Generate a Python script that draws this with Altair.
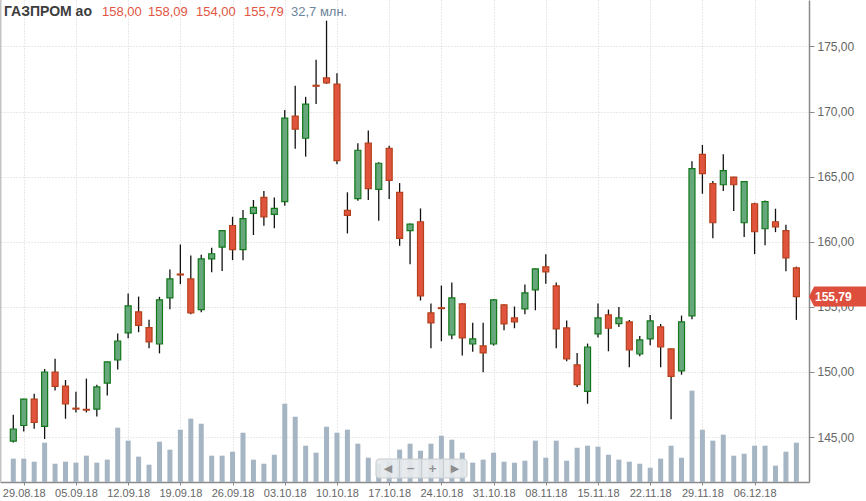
import json
import altair as alt
import pandas as pd

# Trading days (MOEX), Gazprom ordinary shares
dates = [
    "28.08.18", "29.08.18", "30.08.18", "31.08.18",
    "03.09.18", "04.09.18", "05.09.18", "06.09.18", "07.09.18",
    "10.09.18", "11.09.18", "12.09.18", "13.09.18", "14.09.18",
    "17.09.18", "18.09.18", "19.09.18", "20.09.18", "21.09.18",
    "24.09.18", "25.09.18", "26.09.18", "27.09.18", "28.09.18",
    "01.10.18", "02.10.18", "03.10.18", "04.10.18", "05.10.18",
    "08.10.18", "09.10.18", "10.10.18", "11.10.18", "12.10.18",
    "15.10.18", "16.10.18", "17.10.18", "18.10.18", "19.10.18",
    "22.10.18", "23.10.18", "24.10.18", "25.10.18", "26.10.18",
    "29.10.18", "30.10.18", "31.10.18", "01.11.18", "02.11.18",
    "06.11.18", "07.11.18", "08.11.18", "09.11.18",
    "12.11.18", "13.11.18", "14.11.18", "15.11.18", "16.11.18",
    "19.11.18", "20.11.18", "21.11.18", "22.11.18", "23.11.18",
    "26.11.18", "27.11.18", "28.11.18", "29.11.18", "30.11.18",
    "03.12.18", "04.12.18", "05.12.18", "06.12.18", "07.12.18",
    "10.12.18", "11.12.18", "12.12.18",
]

open_ = [
    144.69, 145.89, 147.92, 145.82, 150.00, 148.91, 147.22, 147.13, 147.15, 149.15,
    150.92, 153.00, 154.62, 153.41, 152.15, 155.69, 157.52, 157.15, 154.79, 158.69,
    159.59, 161.25, 159.40, 162.18, 163.41, 162.10, 163.08, 169.65, 167.95, 172.02,
    172.59, 172.11, 162.41, 163.31, 167.57, 164.03, 167.18, 163.80, 160.85, 161.54,
    154.54, 154.93, 152.85, 155.23, 152.15, 152.00, 152.15, 155.15, 154.15, 154.85,
    156.31, 158.08, 156.62, 153.38, 150.54, 148.51, 152.92, 154.38, 153.72, 153.85,
    151.38, 152.54, 153.46, 151.77, 150.08, 154.31, 166.72, 164.46, 164.38, 164.97,
    161.46, 162.92, 161.00, 161.54, 160.85, 158.00,
]
high = [
    146.72, 147.95, 148.33, 150.23, 151.02, 149.38, 148.48, 149.49, 149.02, 150.80,
    152.95, 156.02, 155.79, 154.02, 155.77, 157.87, 159.79, 158.95, 159.00, 159.54,
    160.90, 161.92, 162.44, 163.21, 163.90, 163.41, 170.13, 171.98, 171.13, 173.98,
    176.98, 172.95, 163.80, 167.57, 168.54, 166.10, 167.38, 164.51, 161.40, 162.56,
    155.26, 156.64, 156.87, 155.28, 153.79, 153.79, 155.60, 155.20, 155.03, 156.72,
    157.95, 159.05, 156.87, 153.95, 151.46, 152.18, 155.26, 154.79, 155.00, 154.00,
    152.77, 154.38, 153.69, 151.80, 154.33, 166.18, 167.44, 164.67, 166.72, 165.00,
    164.65, 163.00, 163.18, 162.54, 161.31, 158.09,
]
low = [
    144.58, 145.43, 145.64, 144.85, 148.58, 146.41, 146.89, 146.89, 146.59, 148.20,
    150.20, 152.59, 153.05, 151.82, 151.43, 154.82, 156.74, 154.43, 154.58, 157.66,
    157.75, 158.59, 158.59, 160.52, 161.23, 161.03, 162.77, 167.15, 166.54, 170.59,
    172.13, 165.95, 160.64, 163.15, 163.21, 161.62, 163.28, 159.69, 158.28, 155.49,
    151.82, 152.36, 152.51, 151.26, 151.56, 149.97, 152.03, 153.21, 153.36, 154.44,
    154.74, 156.77, 151.82, 150.82, 148.85, 147.56, 152.64, 151.59, 153.46, 150.36,
    151.21, 152.05, 150.36, 146.36, 149.79, 154.05, 163.69, 160.28, 163.90, 162.36,
    160.36, 159.05, 159.74, 160.74, 157.74, 154.00,
]
close = [
    145.62, 147.92, 146.12, 150.00, 148.89, 147.54, 147.15, 147.07, 148.85, 150.77,
    152.38, 155.08, 153.58, 152.31, 155.54, 157.15, 157.45, 154.54, 158.69, 159.08,
    160.85, 159.40, 161.78, 162.64, 161.92, 162.56, 169.49, 168.65, 170.57, 171.95,
    172.21, 166.23, 162.03, 167.03, 164.08, 166.03, 164.72, 160.26, 161.36, 155.85,
    153.77, 154.87, 155.69, 152.62, 152.54, 151.46, 155.54, 153.69, 153.85, 156.08,
    157.92, 157.69, 153.31, 151.00, 149.03, 151.92, 154.15, 153.36, 154.15, 151.69,
    152.46, 153.92, 151.92, 149.67, 153.85, 165.62, 165.23, 161.46, 165.46, 164.38,
    164.62, 160.77, 163.08, 161.15, 158.77, 155.79,
]
# Daily volume, millions of shares
volume = [
    19.4, 19.4, 16.9, 32.7, 15.2, 16.9, 16.1, 21.9, 16.1, 18.6,
    45.2, 34.4, 21.1, 14.4, 33.5, 26.9, 43.5, 52.7, 48.5, 21.9,
    21.9, 25.2, 41.0, 18.6, 15.2, 22.7, 65.1, 54.3, 30.2, 24.4,
    46.0, 41.0, 43.5, 31.9, 20.2, 15.0, 17.5, 26.9, 31.9, 26.0,
    31.9, 38.5, 35.2, 24.4, 16.1, 18.6, 24.4, 16.9, 16.1, 17.7,
    34.4, 20.2, 34.4, 17.7, 28.5, 30.2, 29.4, 22.7, 18.6, 16.9,
    15.2, 11.9, 19.4, 30.2, 20.2, 76.0, 43.5, 34.4, 39.4, 21.9,
    23.5, 30.2, 30.2, 13.6, 25.2, 32.7,
]

ticker = "ГАЗПРОМ ао"
nav_symbols = ["◀", "−", "+", "▶"]

FONT = "Liberation Sans"
UP_FILL, UP_STROKE = "#67a77c", "#12781a"
DN_FILL, DN_STROKE = "#e0543d", "#b5401c"
RED_TEXT = "#e2553f"
VOL_COLOR = "#a5b5c3"

df = pd.DataFrame({
    "i": list(range(len(dates))),
    "date": dates,
    "open": open_,
    "high": high,
    "low": low,
    "close": close,
    "volume": volume,
})
df["dir"] = ["up" if c >= o else "down" for o, c in zip(open_, close)]
last_i = len(dates) - 1

tick_idx = list(range(1, len(dates), 5))
tick_labels = [dates[k] for k in tick_idx]
x_label_expr = f"{json.dumps(tick_labels)}[round((datum.value - 1) / 5)]"
comma_fmt = "replace(format(datum.value, '.2f'), '.', ',')"

x_enc = alt.X(
    "i:Q",
    scale=alt.Scale(domain=[-0.795, 75.73], nice=False, zero=False),
    axis=alt.Axis(
        values=tick_idx, labelExpr=x_label_expr, title=None,
        grid=True, gridColor="#d2d2d2", gridDash=[1, 2], gridWidth=1,
        domainColor="#8a8a8a", domainWidth=1.5, tickColor="#8a8a8a",
        tickSize=3, labelColor="#666666", labelFont=FONT, labelFontSize=11,
        labelPadding=2, labelFlush=False, labelOverlap=False,
    ),
)
price_scale = alt.Scale(domain=[141.55, 178.57], nice=False, zero=False)
price_axis = alt.Axis(
    orient="right", values=[145, 150, 155, 160, 165, 170, 175],
    labelExpr=comma_fmt, title=None,
    grid=True, gridColor="#d2d2d2", gridDash=[1, 2], gridWidth=1,
    domainColor="#8a8a8a", domainWidth=1.5, tickColor="#8a8a8a",
    tickSize=5, labelColor="#666666", labelFont=FONT, labelFontSize=12,
    labelPadding=3,
)

base = alt.Chart(df)

# Volume histogram on its own scale along the bottom
vol = base.mark_bar(size=5, color=VOL_COLOR).encode(
    x=x_enc,
    y=alt.Y("volume:Q", scale=alt.Scale(domain=[0, 401], nice=False), axis=None),
)

wicks = base.mark_rule(color="#111111", strokeWidth=1.3).encode(
    x=x_enc,
    y=alt.Y("low:Q", scale=price_scale, axis=price_axis),
    y2="high:Q",
)
bodies = base.mark_bar(size=6, strokeWidth=1.2).encode(
    x=x_enc,
    y=alt.Y("open:Q", scale=price_scale),
    y2="close:Q",
    fill=alt.Fill("dir:N", scale=alt.Scale(domain=["up", "down"], range=[UP_FILL, DN_FILL]), legend=None),
    stroke=alt.Stroke("dir:N", scale=alt.Scale(domain=["up", "down"], range=[UP_STROKE, DN_STROKE]), legend=None),
)

last = base.transform_filter(f"datum.i == {last_i}")

# Last-price tag on the right axis
tag = last.mark_point(
    shape="M -1 0 L -0.82 -0.35 L 1 -0.35 L 1 0.35 L -0.82 0.35 Z",
    size=3249, filled=True, color="#dd4f3c", opacity=1, strokeWidth=0,
).encode(x=alt.value(837.5), y=alt.Y("close:Q", scale=price_scale))
tag_text = last.transform_calculate(
    t="replace(format(datum.close, '.2f'), '.', ',')"
).mark_text(
    align="left", baseline="middle", font=FONT, fontSize=12, fontWeight="bold", color="white"
).encode(x=alt.value(815), y=alt.Y("close:Q", scale=price_scale), text="t:N")

# Header: ticker, OHLC and volume of the last session
title_txt = last.transform_calculate(t=f"'{ticker}'").mark_text(
    align="left", baseline="alphabetic", font=FONT, fontSize=14, fontWeight="bold", color="#3d3d3d"
).encode(x=alt.value(4), y=alt.value(16), text="t:N")

header = [title_txt]
for field, xpos in [("open", 102), ("high", 148), ("low", 196), ("close", 244)]:
    header.append(
        last.transform_calculate(t=f"replace(format(datum.{field}, '.2f'), '.', ',')").mark_text(
            align="left", baseline="alphabetic", font=FONT, fontSize=13, color=RED_TEXT
        ).encode(x=alt.value(xpos), y=alt.value(16), text="t:N")
    )
header.append(
    last.transform_calculate(t="replace(format(datum.volume, '.1f'), '.', ',') + ' млн.'").mark_text(
        align="left", baseline="alphabetic", font=FONT, fontSize=13, color="#6d849c"
    ).encode(x=alt.value(291), y=alt.value(16), text="t:N")
)

# Left border of the chart panel
one = alt.Chart(pd.DataFrame({"k": [0]}))
border = one.mark_rule(color="#c4c4c4", strokeWidth=2).encode(
    x=alt.value(0.5), y=alt.value(0), y2=alt.value(482)
)

# Scroll / zoom control
nav_box = one.mark_rect(
    cornerRadius=3, fill="#e6e9ec", fillOpacity=0.9, stroke="#c8cbce", strokeWidth=1
).encode(x=alt.value(376), x2=alt.value(467), y=alt.value(459), y2=alt.value(478))
nav_parts = [nav_box]
for xd in [399.5, 421.5, 443.5]:
    nav_parts.append(
        one.mark_rule(color="#c8cbce", strokeWidth=1).encode(
            x=alt.value(xd), y=alt.value(460), y2=alt.value(477)
        )
    )
for sym, xs in zip(nav_symbols, [388, 410.5, 432.5, 455]):
    nav_parts.append(
        one.transform_calculate(t=f"'{sym}'").mark_text(
            align="center", baseline="middle", font="DejaVu Sans", fontSize=11,
            fontWeight="bold", color="#8e8e8e"
        ).encode(x=alt.value(xs), y=alt.value(468.5), text="t:N")
    )

price = alt.layer(wicks, bodies, tag, tag_text, *header, border, *nav_parts)

chart = alt.layer(vol, price).resolve_scale(y="independent").properties(
    width=809,
    height=482,
    autosize="none",
    padding={"left": 0, "top": 0, "right": 57, "bottom": 19},
    background="white",
).configure_view(stroke=None)

chart.save("out.html", embed_options={"renderer": "svg", "actions": False})
